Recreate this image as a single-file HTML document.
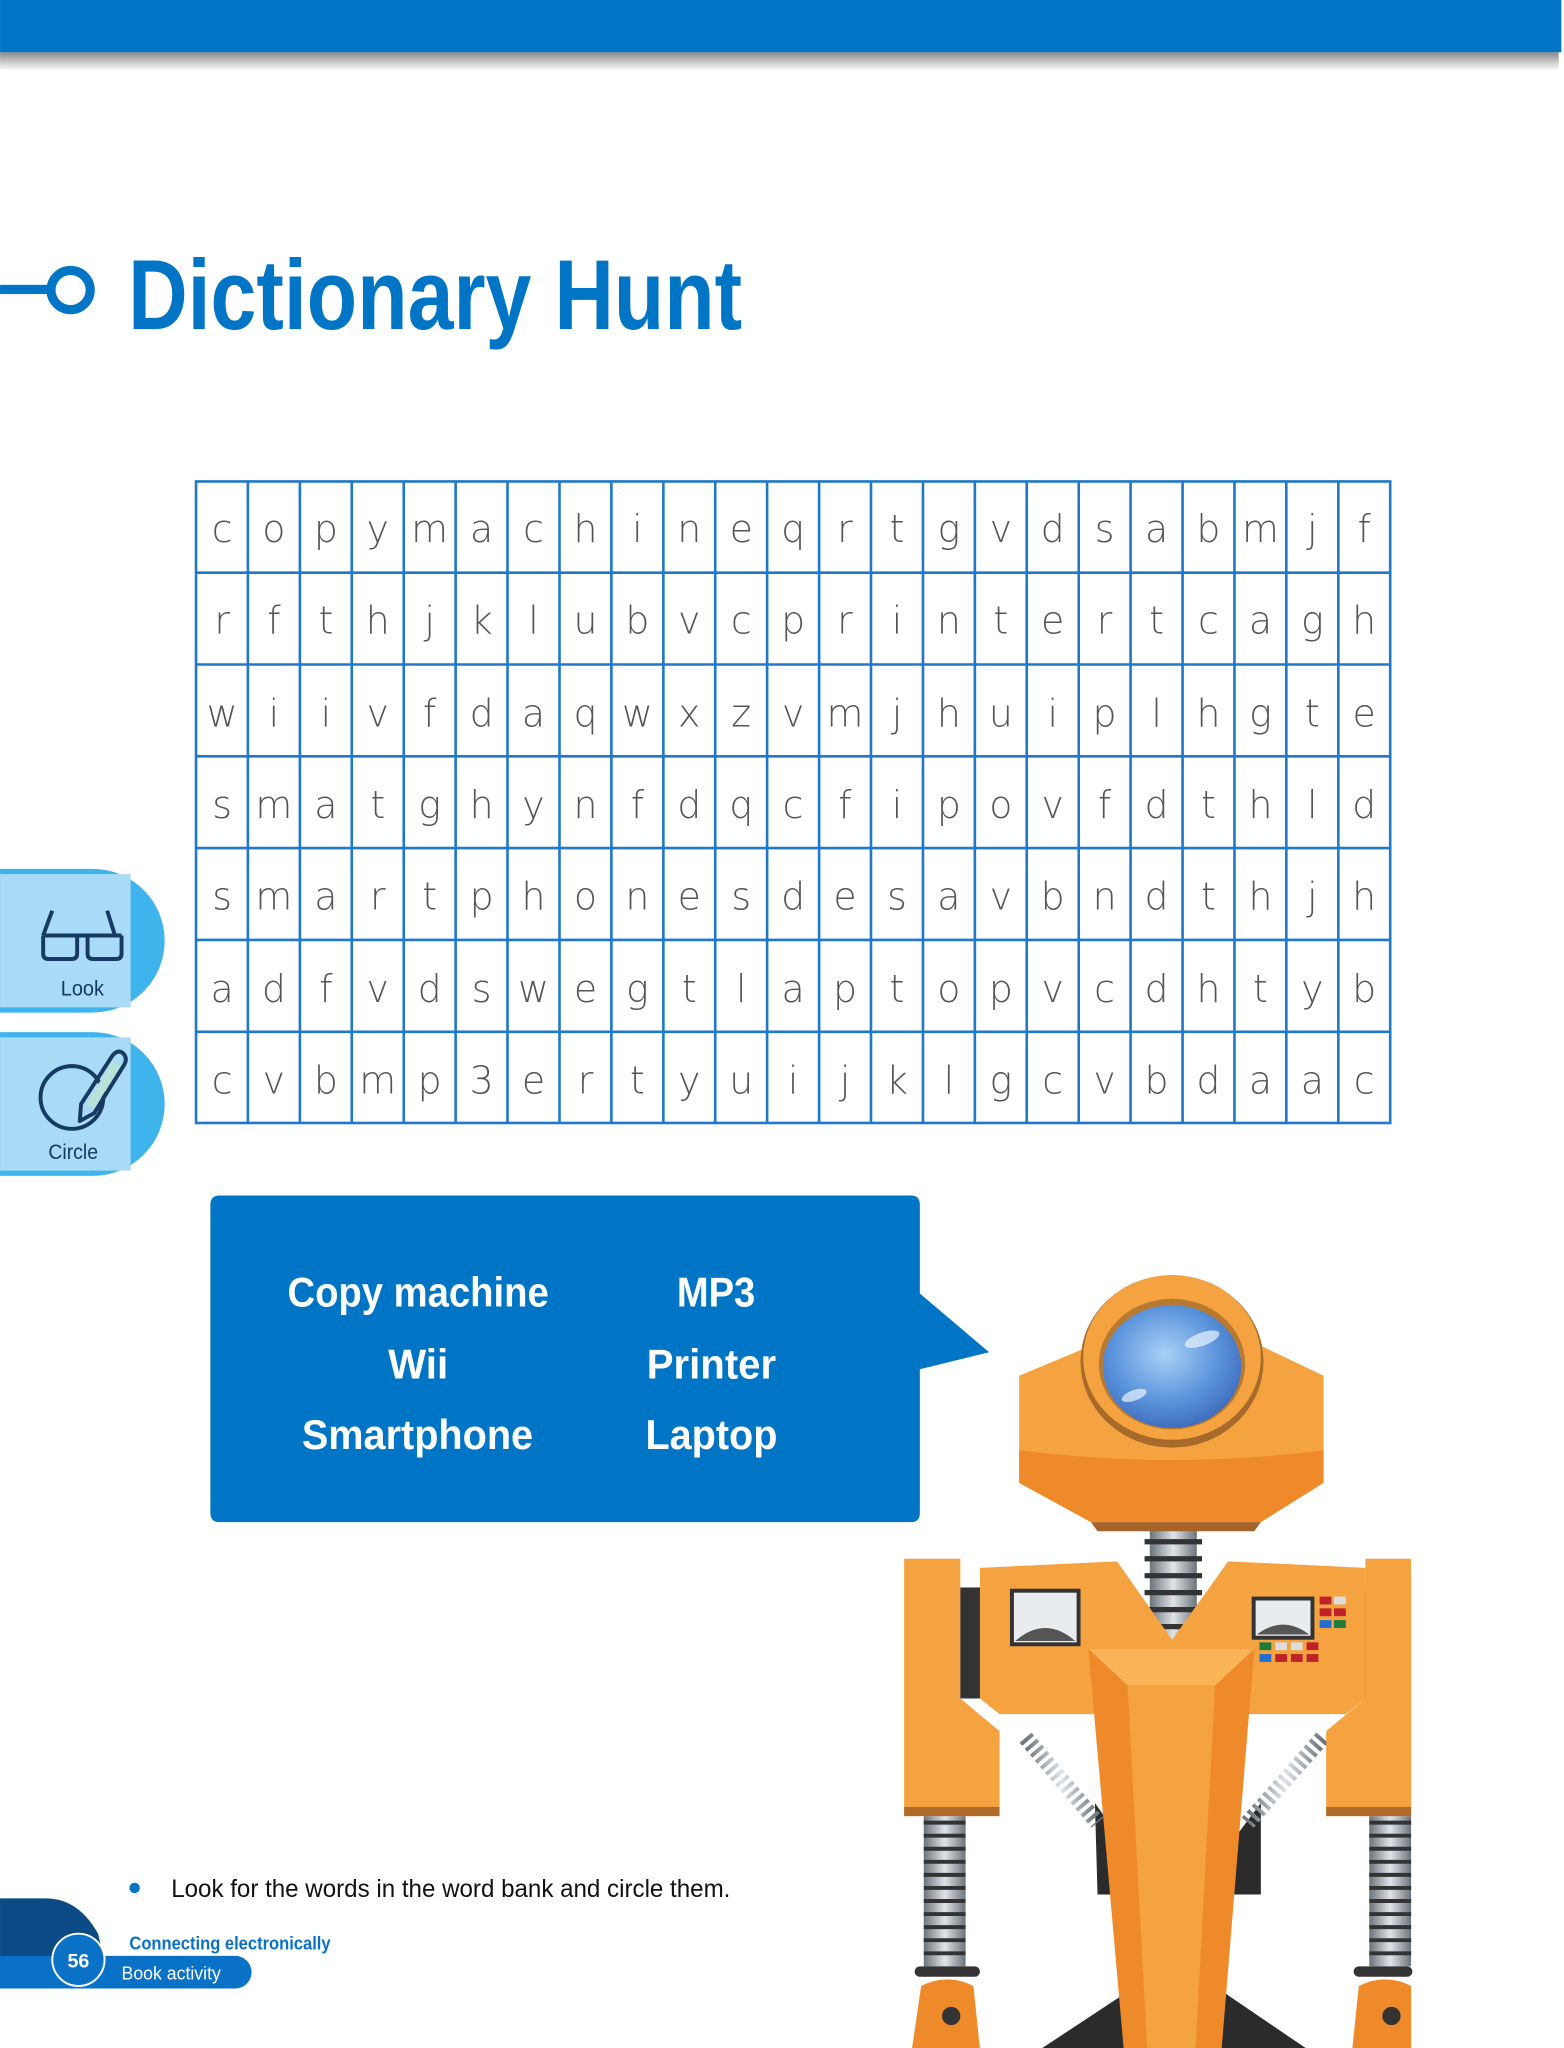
<!DOCTYPE html>
<html><head><meta charset="utf-8"><style>html,body{margin:0;padding:0;background:#fff}svg{display:block}</style></head>
<body>
<svg width="1564" height="2048" viewBox="0 0 1197 1567.5" xmlns="http://www.w3.org/2000/svg">
<defs>
<linearGradient id="sh" x1="0" y1="0" x2="0" y2="1"><stop offset="0" stop-color="#8a8a8a"/><stop offset="1" stop-color="#fff"/></linearGradient>
<radialGradient id="lens" cx="0.45" cy="0.4" r="0.65"><stop offset="0" stop-color="#a9d0f5"/><stop offset="0.6" stop-color="#5a93dc"/><stop offset="1" stop-color="#3a66b8"/></radialGradient>
<linearGradient id="spr" x1="0" x2="1"><stop offset="0" stop-color="#6b737b"/><stop offset="0.5" stop-color="#dfe4e8"/><stop offset="1" stop-color="#6b737b"/></linearGradient>
</defs>
<!-- top bar -->
<rect x="0" y="40" width="1193" height="14" fill="url(#sh)"/>
<rect x="0" y="0" width="1195" height="40" fill="#0075c6"/>
<!-- title -->
<rect x="0" y="218" width="36" height="7" fill="#0075c6"/>
<circle cx="54" cy="222" r="15" fill="none" stroke="#0075c6" stroke-width="7"/>
<text x="98" y="252" font-family="Liberation Sans, sans-serif" font-weight="bold" font-size="76" fill="#0075c6" textLength="470" lengthAdjust="spacingAndGlyphs">Dictionary Hunt</text>
<!-- tabs -->
<g>
<path d="M0 665 H71 A55 55 0 0 1 71 775 H0 Z" fill="#3fb4ec"/>
<path d="M0 669 H100 V771 H0 Z" fill="#a9daf6"/>
<path d="M0 790 H71 A55 55 0 0 1 71 900 H0 Z" fill="#3fb4ec"/>
<path d="M0 794 H100 V896 H0 Z" fill="#a9daf6"/>
<g fill="none" stroke="#173a63" stroke-width="3" stroke-linejoin="round">
<path d="M33 716 L40 697 M88 716 L82 697 M33 716 H93 M33 716 V730 Q33 734 37 734 H55 Q59 734 59 730 V716 M67 716 V730 Q67 734 71 734 H89 Q93 734 93 730 V716"/>
<circle cx="55" cy="840" r="24"/>
<path d="M62 845 L86 808 Q90 803 94 806 Q98 810 95 815 L72 852 L61 858 Z"/>
</g>
<path d="M66 845 L86 812 L92 816 L72 849 Z" fill="#b9e3d8"/>
<text x="63" y="762" text-anchor="middle" font-family="Liberation Sans, sans-serif" font-size="16" fill="#173a63" textLength="33" lengthAdjust="spacingAndGlyphs">Look</text>
<text x="56" y="887" text-anchor="middle" font-family="Liberation Sans, sans-serif" font-size="16" fill="#173a63" textLength="38" lengthAdjust="spacingAndGlyphs">Circle</text>
</g>
<!-- grid -->
<g stroke="#1f78c9" stroke-width="2">
<rect x="150" y="368.5" width="914" height="491" fill="none"/>
<path d="M189.7 368V860M229.5 368V860M269.2 368V860M309 368V860M348.7 368V860M388.4 368V860M428.2 368V860M467.9 368V860M507.7 368V860M547.4 368V860M587.1 368V860M626.9 368V860M666.6 368V860M706.4 368V860M746.1 368V860M785.8 368V860M825.6 368V860M865.3 368V860M905.1 368V860M944.8 368V860M984.5 368V860M1024.3 368V860"/>
<path d="M150 438.3H1064M150 508.6H1064M150 578.9H1064M150 649.1H1064M150 719.4H1064M150 789.7H1064"/>
</g>
<g font-family="DejaVu Sans, Liberation Sans, sans-serif" font-weight="200" font-size="29" fill="#555" text-anchor="middle">
<text y="415" x="170 209.6 249.4 289.1 328.8 368.6 408.3 448.1 487.8 527.5 567.3 607 646.7 686.5 726.2 766 805.7 845.4 885.2 924.9 964.7 1004.4 1044.1">copymachineqrtgvdsabmjf</text>
<text y="485" x="170 209.6 249.4 289.1 328.8 368.6 408.3 448.1 487.8 527.5 567.3 607 646.7 686.5 726.2 766 805.7 845.4 885.2 924.9 964.7 1004.4 1044.1">rfthjklubvcprintertcagh</text>
<text y="556" x="170 209.6 249.4 289.1 328.8 368.6 408.3 448.1 487.8 527.5 567.3 607 646.7 686.5 726.2 766 805.7 845.4 885.2 924.9 964.7 1004.4 1044.1">wiivfdaqwxzvmjhuiplhgte</text>
<text y="626" x="170 209.6 249.4 289.1 328.8 368.6 408.3 448.1 487.8 527.5 567.3 607 646.7 686.5 726.2 766 805.7 845.4 885.2 924.9 964.7 1004.4 1044.1">smatghynfdqcfipovfdthld</text>
<text y="696" x="170 209.6 249.4 289.1 328.8 368.6 408.3 448.1 487.8 527.5 567.3 607 646.7 686.5 726.2 766 805.7 845.4 885.2 924.9 964.7 1004.4 1044.1">smartphonesdesavbndthjh</text>
<text y="767" x="170 209.6 249.4 289.1 328.8 368.6 408.3 448.1 487.8 527.5 567.3 607 646.7 686.5 726.2 766 805.7 845.4 885.2 924.9 964.7 1004.4 1044.1">adfvdswegtlaptopvcdhtyb</text>
<text y="837" x="170 209.6 249.4 289.1 328.8 368.6 408.3 448.1 487.8 527.5 567.3 607 646.7 686.5 726.2 766 805.7 845.4 885.2 924.9 964.7 1004.4 1044.1">cvbmp3ertyuijklgcvbdaac</text>
</g>
<!-- word bank -->
<path d="M168 915 H697 Q704 915 704 922 V990 L757 1035 L704 1048 V1158 Q704 1165 697 1165 H168 Q161 1165 161 1158 V922 Q161 915 168 915 Z" fill="#0075c6"/>
<g font-family="Liberation Sans, sans-serif" font-weight="bold" font-size="32" fill="#fff">
<text x="220" y="1000" textLength="200" lengthAdjust="spacingAndGlyphs">Copy machine</text>
<text x="518" y="1000" textLength="60" lengthAdjust="spacingAndGlyphs">MP3</text>
<text x="297" y="1055" textLength="46" lengthAdjust="spacingAndGlyphs">Wii</text>
<text x="495" y="1055" textLength="99" lengthAdjust="spacingAndGlyphs">Printer</text>
<text x="231" y="1109" textLength="177" lengthAdjust="spacingAndGlyphs">Smartphone</text>
<text x="494" y="1109" textLength="101" lengthAdjust="spacingAndGlyphs">Laptop</text>
</g>
<!-- instruction -->
<circle cx="103" cy="1445" r="4" fill="#0075c6"/>
<text x="131" y="1452" font-family="Liberation Sans, sans-serif" font-size="19" fill="#111" textLength="428" lengthAdjust="spacingAndGlyphs">Look for the words in the word bank and circle them.</text>
<!-- footer -->
<path d="M0 1453 H35 Q60 1453 75 1480 L85 1522 H0 Z" fill="#0b4a85"/>
<path d="M0 1497 H180 A12.5 12.5 0 0 1 180 1522 H0 Z" fill="#0a72c6"/>
<circle cx="60" cy="1500" r="20" fill="#0a72c6" stroke="#fff" stroke-width="1.5"/>
<text x="60" y="1506" text-anchor="middle" font-family="Liberation Sans, sans-serif" font-weight="bold" font-size="15" fill="#fff">56</text>
<text x="99" y="1492" font-family="Liberation Sans, sans-serif" font-weight="bold" font-size="14" fill="#0a72c6" textLength="154" lengthAdjust="spacingAndGlyphs">Connecting electronically</text>
<text x="93" y="1515" font-family="Liberation Sans, sans-serif" font-size="14" fill="#fff" textLength="76" lengthAdjust="spacingAndGlyphs">Book activity</text>
<!-- robot -->
<g>
<!-- feet -->
<path d="M797 1568 L900 1500 L1000 1568 Z" fill="#2b2b2b"/>
<path d="M838 1380 L880 1440 L920 1440 L965 1380 L965 1450 L840 1450 Z" fill="#2b2b2b"/>
<!-- diagonal springs -->
<path d="M785 1330 L840 1395" stroke="url(#spr)" stroke-width="12" stroke-dasharray="3 3"/>
<path d="M1012 1330 L955 1395" stroke="url(#spr)" stroke-width="12" stroke-dasharray="3 3"/>
<!-- leg springs -->
<rect x="707" y="1390" width="32" height="115" fill="url(#spr)"/>
<path d="M707 1395 H739 M707 1405 H739 M707 1415 H739 M707 1425 H739 M707 1435 H739 M707 1445 H739 M707 1455 H739 M707 1465 H739 M707 1475 H739 M707 1485 H739 M707 1495 H739" stroke="#333" stroke-width="3"/>
<rect x="1048" y="1390" width="32" height="115" fill="url(#spr)"/>
<path d="M1048 1395 H1080 M1048 1405 H1080 M1048 1415 H1080 M1048 1425 H1080 M1048 1435 H1080 M1048 1445 H1080 M1048 1455 H1080 M1048 1465 H1080 M1048 1475 H1080 M1048 1485 H1080 M1048 1495 H1080" stroke="#333" stroke-width="3"/>
<rect x="700" y="1505" width="50" height="8" rx="4" fill="#333"/>
<rect x="1036" y="1505" width="45" height="8" rx="4" fill="#333"/>
<path d="M705 1520 Q725 1510 745 1520 L750 1568 H698 Z" fill="#ef8a2a"/>
<circle cx="728" cy="1543" r="7" fill="#333"/>
<path d="M1040 1520 Q1060 1510 1080 1520 V1568 H1035 Z" fill="#ef8a2a"/>
<circle cx="1065" cy="1543" r="7" fill="#333"/>
<!-- neck spring -->
<rect x="880" y="1170" width="36" height="90" fill="url(#spr)"/>
<path d="M876 1180 H920 M876 1193 H920 M876 1206 H920 M876 1219 H920 M876 1232 H920 M876 1245 H920" stroke="#333" stroke-width="4"/>
<!-- shoulders/arms -->
<path d="M692 1193 H735 V1300 L765 1325 V1390 H692 Z" fill="#f5a240"/>
<rect x="692" y="1383" width="73" height="7" fill="#b06a2a"/>
<rect x="735" y="1215" width="18" height="85" fill="#333"/>
<path d="M1080 1193 H1045 V1300 L1015 1325 V1390 H1080 Z" fill="#f5a240"/>
<rect x="1015" y="1383" width="65" height="7" fill="#b06a2a"/>
<rect x="1030" y="1215" width="15" height="85" fill="#333"/>
<!-- torso -->
<path d="M750 1200 L855 1195 L897 1255 L940 1195 L1045 1200 V1300 L1030 1312 H765 L750 1300 Z" fill="#f5a240"/>
<path d="M833 1262 H960 L935 1568 H860 Z" fill="#ef8a2a"/>
<path d="M863 1290 H930 L915 1568 H878 Z" fill="#f5a240"/>
<path d="M833 1262 H960 L930 1290 H863 Z" fill="#f8b457"/>
<!-- gauges -->
<rect x="773" y="1216" width="54" height="44" fill="#333"/>
<rect x="776" y="1219" width="48" height="38" fill="#e8ecee"/>
<path d="M777 1256 Q800 1236 823 1256 Z" fill="#555"/>
<rect x="958" y="1222" width="48" height="33" fill="#333"/>
<rect x="961" y="1225" width="42" height="27" fill="#e8ecee"/>
<path d="M962 1251 Q982 1236 1002 1251 Z" fill="#555"/>
<g>
<rect x="1010" y="1222" width="9" height="6" fill="#c0222a"/><rect x="1021" y="1222" width="9" height="6" fill="#ddd"/>
<rect x="1010" y="1231" width="9" height="6" fill="#c0222a"/><rect x="1021" y="1231" width="9" height="6" fill="#c0222a"/>
<rect x="1010" y="1240" width="9" height="6" fill="#1f6fd0"/><rect x="1021" y="1240" width="9" height="6" fill="#1d7a3a"/>
<rect x="964" y="1257" width="9" height="6" fill="#1d7a3a"/><rect x="976" y="1257" width="9" height="6" fill="#ddd"/><rect x="988" y="1257" width="9" height="6" fill="#ddd"/><rect x="1000" y="1257" width="9" height="6" fill="#c0222a"/>
<rect x="964" y="1266" width="9" height="6" fill="#1f6fd0"/><rect x="976" y="1266" width="9" height="6" fill="#c0222a"/><rect x="988" y="1266" width="9" height="6" fill="#c0222a"/><rect x="1000" y="1266" width="9" height="6" fill="#c0222a"/>
</g>
<!-- head -->
<path d="M780 1053 L835 1030 H965 L1013 1053 V1135 L965 1165 H835 L780 1135 Z" fill="#f5a240"/>
<path d="M780 1110 Q897 1125 1013 1110 V1135 L965 1165 H835 L780 1135 Z" fill="#ef8a2a"/>
<path d="M835 1165 H965 L960 1172 H840 Z" fill="#a5652a"/>
<ellipse cx="897" cy="1042" rx="70" ry="66" fill="#a86a2a"/>
<ellipse cx="897" cy="1039" rx="68" ry="63" fill="#f5a240"/>
<ellipse cx="897" cy="1044" rx="56" ry="50" fill="#b87a30"/>
<ellipse cx="897" cy="1046" rx="53" ry="47" fill="url(#lens)"/>
<ellipse cx="920" cy="1025" rx="14" ry="5" fill="#eaf4ff" opacity="0.7" transform="rotate(-20 920 1025)"/>
<ellipse cx="868" cy="1068" rx="10" ry="4" fill="#eaf4ff" opacity="0.7" transform="rotate(-20 868 1068)"/>
</g>
</svg>
</body></html>
